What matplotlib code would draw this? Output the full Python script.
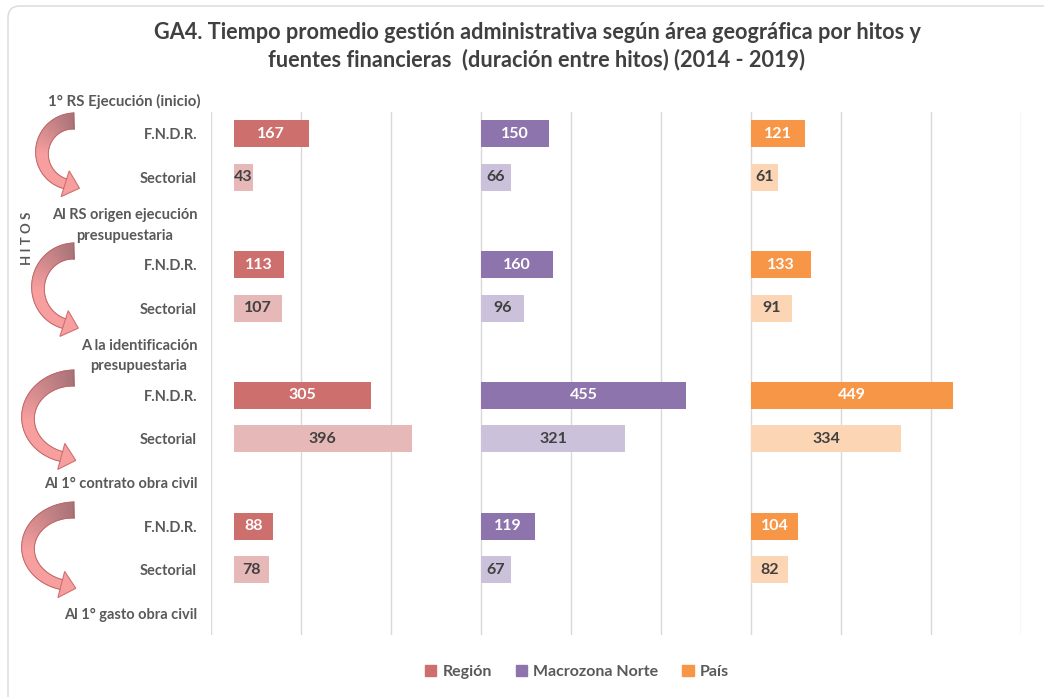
import numpy as np
import matplotlib
matplotlib.use("Agg")
import matplotlib.pyplot as plt
from matplotlib.patches import Polygon, FancyBboxPatch
import matplotlib.patches as mpatches

# ---------------- data ----------------
categories = ["F.N.D.R.", "Sectorial", "Al RS origen ejecución\npresupuestaria",
              "F.N.D.R.", "Sectorial", "A la identificación\npresupuestaria",
              "F.N.D.R.", "Sectorial", "Al 1° contrato obra civil",
              "F.N.D.R.", "Sectorial", "Al 1° gasto obra civil"]
header_label = "1° RS Ejecución (inicio)"
region = [167, 43, np.nan, 113, 107, np.nan, 305, 396, np.nan, 88, 78, np.nan]
macrozona = [150, 66, np.nan, 160, 96, np.nan, 455, 321, np.nan, 119, 67, np.nan]
pais = [121, 61, np.nan, 133, 91, np.nan, 449, 334, np.nan, 104, 82, np.nan]
series_names = ["Región", "Macrozona Norte", "País"]
title = ("GA4. Tiempo promedio gestión administrativa según área geográfica por hitos y\n"
         "fuentes financieras  (duración entre hitos) (2014 - 2019)")

# ---------------- style ----------------
FONT = ["Lato", "DejaVu Sans"]
plt.rcParams['font.family'] = FONT
W, H = 1044, 697
fig = plt.figure(figsize=(W / 100, H / 100), dpi=100)
fig.patch.set_facecolor("white")

dark_cols = ["#cd6f6d", "#8e74ad", "#f79646"]
light_cols = ["#e6b8b7", "#ccc1da", "#fcd5b5"]
offsets = [50, 600, 1200]   # panel starting points on the shared axis
txt_col = "#595959"

# background overlay axes (pixel coords) for border, arrows, labels
bg = fig.add_axes([0, 0, 1, 1], zorder=0)
bg.set_xlim(0, W)
bg.set_ylim(H, 0)
bg.axis("off")
bg.add_patch(FancyBboxPatch((8, 6), W + 20, H + 20, boxstyle="round,pad=0,rounding_size=12",
                            facecolor="white", edgecolor="#d9d9d9", lw=1.0))

left, right, top, bottom = 211, 1021, 112, 635
ax = fig.add_axes([left / W, 1 - bottom / H, (right - left) / W, (bottom - top) / H], zorder=2)
ax.patch.set_alpha(0)

n = len(categories)
y = np.arange(n)
is_fndr = np.array([c == "F.N.D.R." for c in categories])
bh = 0.62
for k, vals in enumerate([region, macrozona, pais]):
    vals = np.array(vals, dtype=float)
    cols = [dark_cols[k] if f else light_cols[k] for f in is_fndr]
    ax.barh(y, vals, left=offsets[k], height=bh, color=cols, zorder=3)
    for yi, v, f in zip(y, vals, is_fndr):
        if np.isnan(v):
            continue
        ax.text(offsets[k] + v / 2, yi, f"{int(v)}", ha="center", va="center",
                fontsize=11.5, fontweight="bold",
                color="white" if f else "#404040", zorder=4)

ax.set_xlim(0, 1800)
ax.set_ylim(n - 0.5, -0.5)
ax.set_xticks(np.arange(0, 1801, 200))
ax.set_xticklabels([])
ax.tick_params(axis="x", length=0)
ax.grid(axis="x", color="#d9d9d9", lw=1.0, zorder=0)
ax.set_axisbelow(True)
for s in ax.spines.values():
    s.set_visible(False)
ax.set_yticks(y)
ax.set_yticklabels(categories, fontsize=10.5, fontweight="bold", color=txt_col,
                   ha="right", multialignment="center", linespacing=1.55)
ax.tick_params(axis="y", length=0, pad=10)

bg.text(200, 101, header_label, ha="right", va="center", fontsize=10.8,
        fontweight="bold", color=txt_col)

# HITOS vertical label
bg.text(27, 238, "H I T O S", rotation=90, ha="center", va="center",
        fontsize=9.5, fontweight="bold", color=txt_col)

# title
fig.text(537 / W, 1 - 46 / H, title, ha="center", va="center", fontsize=15.6,
         fontweight="bold", color="#404040", linespacing=1.32)


# curved arrows
def curved_arrow(axb, cy, ry, rx, xr, tail_w=16, body_w=10, head_w=27, head_len=15):
    cx = xr - 2
    t = np.linspace(np.pi / 2, 3 * np.pi / 2 - 0.28, 60)
    xs = cx + rx * np.cos(t)
    ys = cy - ry * np.sin(t)
    w = np.linspace(tail_w, body_w, len(t))
    dx = np.gradient(xs)
    dy = np.gradient(ys)
    L = np.hypot(dx, dy)
    nx, ny = -dy / L, dx / L
    ox, oy = xs + nx * w / 2, ys + ny * w / 2
    ix, iy = xs - nx * w / 2, ys - ny * w / 2
    c0 = np.array([0.66, 0.45, 0.47])
    c1 = np.array([0.97, 0.62, 0.62])
    for i in range(len(t) - 1):
        f = min(1, i / (len(t) * 0.55))
        col = c0 * (1 - f) + c1 * f
        poly = [(ox[i], oy[i]), (ox[i + 1], oy[i + 1]), (ix[i + 1], iy[i + 1]), (ix[i], iy[i])]
        axb.add_patch(Polygon(poly, closed=True, facecolor=col, edgecolor=col, lw=0.6))
    # arrow head
    ex, ey = xs[-1], ys[-1]
    ux, uy = dx[-1] / L[-1], dy[-1] / L[-1]
    px, py = -uy, ux
    head = [(ex + px * head_w / 2, ey + py * head_w / 2),
            (ex + ux * head_len, ey + uy * head_len),
            (ex - px * head_w / 2, ey - py * head_w / 2)]
    axb.add_patch(Polygon(head, closed=True, facecolor=tuple(c1), edgecolor="#d07070", lw=0.8))
    # outline
    axb.plot(ox, oy, color="#c06868", lw=0.7)
    axb.plot(ix, iy, color="#c06868", lw=0.7)
    axb.plot([ox[0], ix[0]], [oy[0], iy[0]], color="#a06060", lw=0.7)


curved_arrow(bg, 153, 32, 32, 76)
curved_arrow(bg, 288, 37, 36, 76)
curved_arrow(bg, 418, 40, 46, 76)
curved_arrow(bg, 548, 38, 46, 76)

# legend
handles = [mpatches.Patch(color=dark_cols[i], label=series_names[i]) for i in range(3)]
leg = fig.legend(handles=handles, loc="center", bbox_to_anchor=(577 / W, 1 - 672 / H),
                 ncol=3, frameon=False, handlelength=0.7, handleheight=0.7,
                 handletextpad=0.4, columnspacing=1.5,
                 prop={"family": FONT, "weight": "bold", "size": 11.5})
for t_ in leg.get_texts():
    t_.set_color(txt_col)

fig.savefig("out.png", dpi=100, facecolor="white")
